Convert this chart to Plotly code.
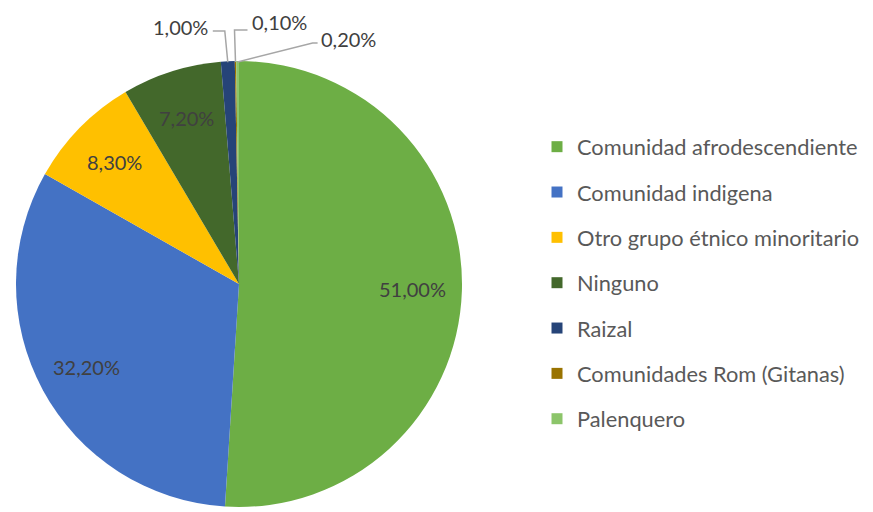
import math
import plotly.graph_objects as go

labels = ["Comunidad afrodescendiente", "Comunidad indigena", "Otro grupo étnico minoritario",
          "Ninguno", "Raizal", "Comunidades Rom (Gitanas)", "Palenquero"]
values = [51.0, 32.2, 8.3, 7.2, 1.0, 0.1, 0.2]
colors = ["#6DAE45", "#4472C4", "#FFC000", "#43682B", "#264478", "#997300", "#8CC56A"]

# the page body has an 8px margin, so the figure is 8px smaller and everything is offset
OFF = 8
W, H = 873 - OFF, 512 - OFF
CX, CY, R = 239, 284, 223   # pie centre / radius in window pixels
FONT = "Lato"


def to_paper(px, py):
    return (px - OFF) / W, 1 - (py - OFF) / H


def slice_point(i, frac):
    total = sum(values)
    mid = sum(values[:i]) + values[i] / 2
    ang = 2 * math.pi * mid / total
    return CX + frac * R * math.sin(ang), CY - frac * R * math.cos(ang)


def pct(v):
    return "{:.2f}%".format(v).replace(".", ",")


x0, y1 = to_paper(CX - R, CY - R)
x1, y0 = to_paper(CX + R, CY + R)

fig = go.Figure()

fig.add_trace(go.Pie(labels=labels, values=values, sort=False,
                     direction="clockwise", rotation=0,
                     marker=dict(colors=colors, line=dict(width=0)),
                     textinfo="none", showlegend=False,
                     domain=dict(x=[x0, x1], y=[y0, y1])))

# legend entries (square markers, spaced like the original)
for lab, col in zip(labels, colors):
    fig.add_scatter(x=[None], y=[None], mode="markers", name=lab, legendgroup=lab,
                    marker=dict(symbol="square", size=11, color=col))

annotations = []
shapes = []

# labels inside the big slices
for i in range(4):
    px, py = slice_point(i, 0.78)
    x, y = to_paper(px, py)
    annotations.append(dict(x=x, y=y, xref="paper", yref="paper", text=pct(values[i]),
                            xanchor="center", yanchor="middle", showarrow=False,
                            font=dict(size=20, color="#404040", family=FONT)))

# small slices: labels outside with leader lines
# (slice index, elbow dx, elbow y, line end dx, text dx, text y, anchor)
outside = [(4, -3, 31, -15, -18, 27, "right"),
           (5, -1, 30, 12, 15, 22, "left"),
           (6, 75, 43, 80, 81, 39, "left")]
for i, edx, ey, ldx, tdx, ty, anchor in outside:
    ex, ey0 = slice_point(i, 1.0)
    pts = [to_paper(ex, ey0 + 1), to_paper(ex + edx, ey), to_paper(ex + ldx, ey)]
    path = "M {} {} L {} {} L {} {}".format(*[c for p in pts for c in p])
    shapes.append(dict(type="path", path=path, xref="paper", yref="paper",
                       line=dict(color="#A6A6A6", width=1.5)))
    tx, tyy = to_paper(ex + tdx, ty)
    annotations.append(dict(x=tx, y=tyy, xref="paper", yref="paper", text=pct(values[i]),
                            xanchor=anchor, yanchor="middle", showarrow=False,
                            font=dict(size=20, color="#404040", family=FONT)))

lx, ly = to_paper(537, 283)
fig.update_layout(width=W, height=H,
                  margin=dict(l=0, r=0, t=0, b=0, autoexpand=False),
                  paper_bgcolor="white", plot_bgcolor="white",
                  xaxis=dict(visible=False), yaxis=dict(visible=False),
                  annotations=annotations, shapes=shapes,
                  legend=dict(x=lx, y=ly, xanchor="left", yanchor="middle",
                              tracegroupgap=14, itemclick=False,
                              font=dict(size=21.8, color="#595959", family=FONT)))

fig.write_html("out.html")
